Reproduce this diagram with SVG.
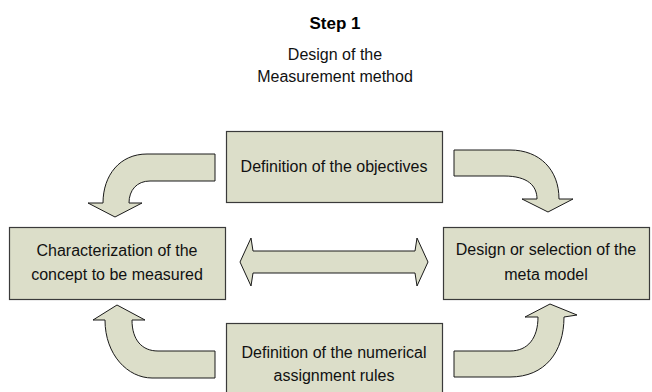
<svg xmlns="http://www.w3.org/2000/svg" width="652" height="392" viewBox="0 0 652 392">
<style>
.box{fill:#dcdec9;stroke:#3a3a3a;stroke-width:1.2}
.arr{fill:#dcdec9;stroke:#1a1a1a;stroke-width:1;stroke-linejoin:miter}
.t{font-family:"Liberation Sans",Arial,sans-serif;font-size:16px;fill:#111;text-anchor:middle}
.h{font-family:"Liberation Sans",Arial,sans-serif;font-size:17px;font-weight:bold;fill:#000;text-anchor:middle}
</style>
<rect width="652" height="392" fill="#fff"/>
<g id="title">
<text class="h" x="335" y="29">Step 1</text>
<text class="t" x="335" y="60">Design of the</text>
<text class="t" x="335" y="82">Measurement method</text>
</g>
<g id="objectives">
<rect class="box" x="226.5" y="131.5" width="216" height="71"/>
<text class="t" x="334" y="172">Definition of the objectives</text>
</g>
<g id="characterization">
<rect class="box" x="9.5" y="227.5" width="216" height="72"/>
<text class="t" x="117" y="256">Characterization of the</text>
<text class="t" x="117" y="280">concept to be measured</text>
</g>
<g id="metamodel">
<rect class="box" x="443.5" y="227.5" width="206" height="72"/>
<text class="t" x="546" y="255">Design or selection of the</text>
<text class="t" x="546" y="280">meta model</text>
</g>
<g id="rules">
<rect class="box" x="226.5" y="323.5" width="216" height="72"/>
<text class="t" x="334" y="358">Definition of the numerical</text>
<text class="t" x="334" y="381">assignment rules</text>
</g>
<g id="connectors">
<path class="arr" d="M215,154 L147,154 C120,154 103,175 103,203 L88,203 L115,217 L142,203 L129,203 C129,190 137,181 150,181 L215,181 Z"/>
<path class="arr" d="M454,150 L510,150 C540,150 559,170 559,199 L573,199 L548,212 L522,199 L537,199 C537,186 528,176 504,176 L454,176 Z"/>
<path class="arr" d="M215,351 L158,351 C142,351 132,340 132,320 L145,320 L117,305 L93,320 L105,320 C105,355 128,378 152,378 L215,378 Z"/>
<path class="arr" d="M454,351 L510,351 C528,351 538,338 538,317 L525,317 L550,304 L577,315 L564,317 C564,352 545,377 510,377 L454,377 Z"/>
<path class="arr" d="M240,262 L251,238 L253,251 L415,251 L417,238 L428,262 L417,286 L415,273 L253,273 L251,286 Z"/>
</g>
</svg>
